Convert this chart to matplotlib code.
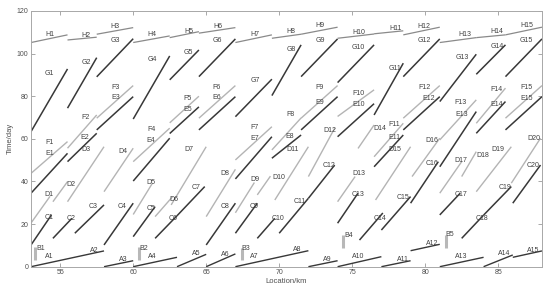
import matplotlib
matplotlib.use("Agg")
import matplotlib.pyplot as plt

plt.rcParams['font.family'] = ['Liberation Sans', 'DejaVu Sans']

# segment break points (km) used by rows E-H
brk = [53, 55.5, 57.5, 60, 62.5, 64.5, 67, 69.5, 71.5, 74, 76.5, 78.5, 81, 83.5, 85.5, 88]

# row A (bottom, dark)
a_km = [(53, 58), (58, 60), (60, 63), (63, 65), (65, 67), (67, 72), (72, 74),
        (74, 77), (77, 79), (79, 81), (81, 84), (84, 86), (86, 88)]
a_day = [(0, 7.4), (0, 2.8), (0, 4.4), (0, 5.8), (0, 6.0), (0, 7.5), (0, 2.8),
         (0, 4.7), (0, 2.8), (7.5, 10.5), (0, 4.4), (0, 5.5), (4.4, 7.4)]
a_lab_x = [54.27, 57.35, 59.29, 61.28, 64.32, 66.30, 68.29, 71.25, 73.27, 75.43, 78.47, 80.46, 82.45, 85.41, 87.42]
a_lab_y = [5.0, 7.8, 3.5, 5.0, 6.3, 5.8, 5.0, 8.2, 3.5, 5.0, 3.5, 10.7, 5.0, 6.0, 7.8]

# row B (short vertical bars)
b_km = [53.3, 60.4, 67.45, 74.4, 81.44]
b_day = [(3.1, 9.4), (3.1, 9.4), (3.1, 8.6), (8.6, 14.9), (8.6, 14.9)]
b_lab_x = [53.68, 60.71, 67.74, 74.75, 81.71]
b_lab_y = [8.6, 8.6, 8.6, 14.6, 14.9]

# row C (dark)
c_km = [(53.0, 54.4), (54.5, 55.8), (56.0, 58.0), (58.0, 60.0), (60.0, 61.5),
        (61.5, 63.0), (63.0, 64.9), (65.0, 67.0), (67.0, 68.5), (68.5, 69.7),
        (70.0, 72.0), (72.0, 73.8), (74.0, 75.4), (75.5, 77.1), (77.0, 79.0),
        (79.0, 80.9), (81.0, 82.4), (82.5, 84.0), (84.0, 85.9), (86.0, 87.9)]
c_day = [(10.2, 24.3), (13.3, 22.7), (15.7, 29.0), (10.2, 29.8), (14.1, 28.2),
         (13.3, 23.9), (23.9, 37.6), (10.2, 29.8), (15.7, 29.8), (13.3, 22.7),
         (15.7, 32.1), (32.1, 47.7), (20.4, 34.5), (12.5, 25.2), (17.2, 32.9),
         (29.8, 49.3), (24.3, 34.5), (13.3, 24.2), (24.2, 37.6), (29.8, 47.7)]
c_lab_x = [54.27, 55.75, 57.28, 59.27, 61.23, 62.76, 64.29, 66.30, 68.31, 69.95,
           71.44, 73.45, 75.43, 76.92, 78.51, 80.46, 82.47, 83.92, 85.48, 87.42]
c_lab_y = [23.2, 22.7, 28.2, 28.2, 27.4, 22.7, 37.3, 28.2, 28.2, 22.7,
           30.5, 47.3, 33.7, 22.7, 32.4, 48.2, 33.7, 22.7, 37.3, 47.3]

# row D (light grey)
d_km = [(53.0, 54.3), (54.5, 55.5), (55.5, 58.0), (58.0, 60.0), (60.0, 61.3),
        (61.5, 62.7), (62.6, 65.0), (65.0, 67.0), (67.0, 68.3), (68.5, 69.4),
        (69.7, 72.0), (72.0, 73.8), (74.0, 75.2), (75.4, 76.5), (76.6, 79.0),
        (79.1, 81.0), (81.0, 82.5), (82.5, 83.5), (83.5, 85.9), (85.9, 87.9)]
d_day = [(20.5, 33.0), (30.5, 39.9), (30.5, 56.3), (35.2, 55.6), (24.5, 39.0),
         (23.5, 32.9), (29.0, 56.3), (23.5, 45.7), (25.3, 39.5), (33.7, 42.5),
         (31.3, 56.3), (42.3, 65.0), (30.5, 42.3), (55.5, 66.5), (31.3, 56.3),
         (42.3, 60.3), (34.5, 49.3), (42.3, 54.0), (35.2, 56.3), (39.2, 60.3)]
d_lab_x = [54.25, 55.75, 56.78, 59.27, 61.23, 62.76, 63.79, 66.30, 68.31, 69.95,
           70.89, 73.45, 75.43, 76.92, 77.95, 80.46, 82.47, 83.92, 84.98, 87.42]
d_lab_y = [33.7, 38.7, 54.8, 54.0, 39.6, 31.3, 54.8, 43.5, 40.7, 42.0,
           54.8, 63.7, 43.5, 65.0, 55.1, 59.0, 49.8, 52.0, 55.1, 60.3]

# row E (dark)
e_day = [(34.5, 53.2), (49.3, 62.6), (64.2, 79.8), (40.2, 60.3), (62.5, 75.0),
         (64.2, 79.8), (41.2, 61.0), (50.9, 61.8), (64.2, 79.8), (61.0, 76.5),
         (46.9, 61.8), (64.2, 79.8), (46.9, 72.8), (62.6, 77.5), (64.2, 79.8)]
e_lab_x = [54.25, 56.71, 58.77, 61.23, 63.75, 65.73, 68.31, 70.75, 72.81, 75.43, 77.90, 80.27, 82.51, 84.91, 86.97]
e_lab_y = [52.9, 60.6, 79.3, 59.0, 73.6, 79.3, 60.0, 61.0, 77.2, 76.2, 60.6, 79.1, 71.2, 76.2, 79.1]

# row F (light grey)
f_day = [(43.8, 58.7), (55.6, 71.2), (69.7, 85.0), (49.3, 65.0), (67.5, 80.0),
         (69.7, 85.0), (50.1, 65.7), (54.8, 69.8), (69.7, 85.0), (70.5, 83.0),
         (51.6, 67.3), (69.7, 85.0), (59.5, 78.3), (67.3, 83.8), (69.7, 85.0)]
f_lab_x = [54.25, 56.71, 58.77, 61.23, 63.75, 65.73, 68.31, 70.75, 72.76, 75.43, 77.90, 79.93, 82.40, 84.91, 86.92]
f_lab_y = [58.4, 70.0, 84.2, 64.5, 79.1, 84.2, 65.3, 71.2, 84.2, 81.1, 66.5, 84.2, 77.2, 83.0, 84.2]

# row G (dark)
g_day = [(63.4, 92.8), (74.4, 98.1), (89.1, 107.0), (69.3, 98.9), (87.7, 101.7),
         (89.2, 106.9), (70.4, 88.0), (80.3, 104.1), (89.2, 106.9), (86.4, 104.1),
         (71.2, 95.5), (89.2, 106.9), (77.5, 99.7), (90.3, 104.1), (89.2, 106.9)]
g_lab_x = [54.27, 56.78, 58.77, 61.28, 63.79, 65.77, 68.36, 70.82, 72.81, 75.43, 77.95, 79.93, 82.51, 84.91, 86.92]
g_lab_y = [90.8, 95.8, 106.0, 97.4, 100.5, 106.0, 87.2, 101.7, 106.0, 103.0, 92.8, 106.0, 98.1, 103.3, 106.0]

# row H (mid grey)
h_day = [(105.2, 108.8), (106.4, 107.7), (109.1, 112.2), (105.2, 108.3), (107.5, 110.3),
         (109.6, 112.2), (105.2, 108.8), (107.2, 109.1), (109.1, 112.4), (107.2, 109.2),
         (109.3, 110.7), (108.8, 112.4), (105.2, 107.5), (107.5, 108.8), (108.8, 112.4)]
h_lab_x = [54.27, 56.78, 58.77, 61.28, 63.79, 65.77, 68.36, 70.82, 72.81, 75.43, 77.95, 79.93, 82.69, 84.91, 86.97]
h_lab_y = [109.1, 108.3, 112.7, 109.1, 110.3, 112.7, 109.1, 110.3, 113.0, 110.0, 111.9, 112.7, 109.1, 110.3, 113.0]

DARK = "#383838"
LIGHT = "#b4b4b4"
MID = "#8a8a8a"
TXT = "#404040"

fig = plt.figure(figsize=(5.5, 2.94), dpi=100)
ax = fig.add_axes([0.0564, 0.0929, 0.929, 0.8697])


def draw_row(kms, days, color, lw):
    for (x0, x1), (y0, y1) in zip(kms, days):
        ax.plot([x0, x1], [y0, y1], color=color, lw=lw, solid_capstyle="butt")


def label_row(prefix, xs, ys):
    for i, (x, y) in enumerate(zip(xs, ys)):
        ax.text(x, y, f"{prefix}{i + 1}", fontsize=5, color=TXT,
                ha="center", va="center")


seg = list(zip(brk[:-1], brk[1:]))

draw_row(a_km, a_day, DARK, 1.0)
for x, (y0, y1) in zip(b_km, b_day):
    ax.plot([x, x], [y0, y1], color="#b8b8b8", lw=2.2, solid_capstyle="butt")
draw_row(c_km, c_day, DARK, 1.1)
draw_row(d_km, d_day, LIGHT, 1.0)
draw_row(seg, e_day, DARK, 1.1)
draw_row(seg, f_day, LIGHT, 1.0)
draw_row(seg, g_day, DARK, 1.1)
draw_row(seg, h_day, MID, 0.9)

label_row("A", a_lab_x, a_lab_y)
label_row("B", b_lab_x, b_lab_y)
label_row("C", c_lab_x, c_lab_y)
label_row("D", d_lab_x, d_lab_y)
label_row("E", e_lab_x, e_lab_y)
label_row("F", f_lab_x, f_lab_y)
label_row("G", g_lab_x, g_lab_y)
label_row("H", h_lab_x, h_lab_y)

ax.set_xlim(53, 88)
ax.set_ylim(0, 120)
ax.set_xticks([55, 60, 65, 70, 75, 80, 85])
ax.set_yticks([0, 20, 40, 60, 80, 100, 120])
ax.tick_params(direction="in", length=3, width=0.6, colors="#9a9a9a",
               labelcolor="#505050", labelsize=5, top=True, right=True, pad=2)
for s in ax.spines.values():
    s.set_color("#a8a8a8")
    s.set_linewidth(0.7)
ax.set_xlabel("Location/km", fontsize=5.5, color="#505050", labelpad=1)
ax.set_ylabel("Time/day", fontsize=5.5, color="#505050", labelpad=2)

fig.savefig("out.png", dpi=100)
